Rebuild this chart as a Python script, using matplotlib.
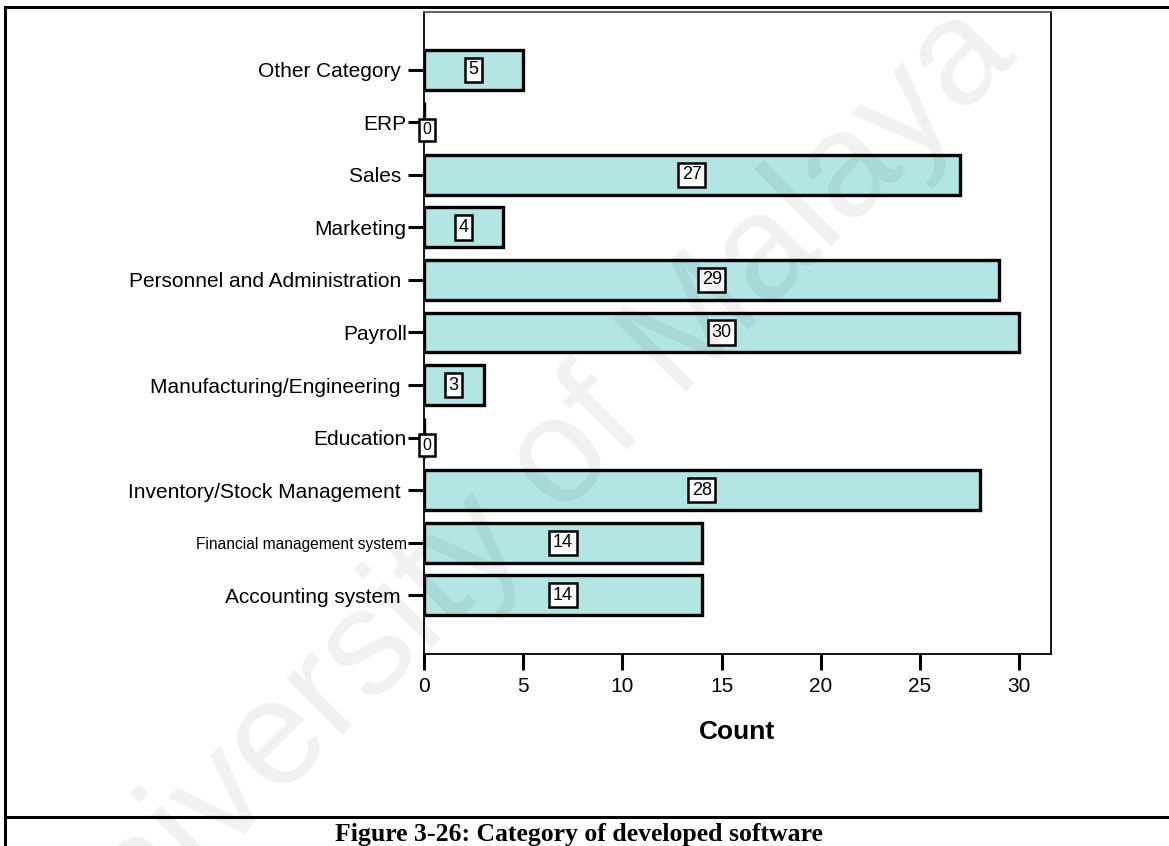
import matplotlib
matplotlib.use("Agg")
import matplotlib.pyplot as plt
from matplotlib.lines import Line2D

# Categories listed bottom-to-top as drawn on the y axis
categories = [
    "Accounting system ",
    "Financial management system",
    "Inventory/Stock Management ",
    "Education",
    "Manufacturing/Engineering ",
    "Payroll",
    "Personnel and Administration ",
    "Marketing",
    "Sales ",
    "ERP",
    "Other Category ",
]
counts = [14, 14, 28, 0, 3, 30, 29, 4, 27, 0, 5]
x_ticks = [0, 5, 10, 15, 20, 25, 30]

W, H, DPI = 1169, 846, 100
fig = plt.figure(figsize=(W / DPI, H / DPI), dpi=DPI)
fig.patch.set_facecolor("white")

def fx(px):
    return px / W

def fy(py):
    return 1 - py / H

ax = fig.add_axes([fx(424), fy(654), fx(1051) - fx(424), fy(12) - fy(654)])

ypos = list(range(len(categories)))
ax.barh(ypos, counts, height=0.76, color="#b3e5e5", edgecolor="black",
        linewidth=2.4, zorder=3)

ax.set_xlim(0, 31.6)
ax.set_ylim(-1.12, len(categories) - 1 + 1.1)
ax.set_xticks(x_ticks)
ax.set_xticklabels([str(t) for t in x_ticks], family="Liberation Sans",
                   fontsize=15)
ax.set_yticks(ypos)
ax.set_yticklabels(categories, family="Liberation Sans", fontsize=15)
for lbl in ax.get_yticklabels():
    if lbl.get_text().startswith("Financial"):
        lbl.set_fontsize(11.2)
ax.tick_params(axis="y", length=11.5, width=2.2, pad=1, direction="out")
ax.tick_params(axis="x", length=11.5, width=2.2, pad=5, direction="out")

for s in ax.spines.values():
    s.set_linewidth(1.3)
    s.set_color("black")
ax.spines["top"].set_color("#555555")

ax.set_xlabel("Count", family="Liberation Sans", fontweight="bold",
              fontsize=19, labelpad=17)

# Value labels in boxed tags
box = dict(boxstyle="square,pad=0.2", facecolor="white", edgecolor="black",
           linewidth=1.8)
for y, v in zip(ypos, counts):
    if v == 0:
        ax.annotate(str(v), xy=(0, y), xytext=(-1.0, -5.5),
                    textcoords="offset points", ha="left", va="center",
                    fontsize=11.5, family="Liberation Sans", bbox=box, zorder=5)
    else:
        ax.text(v / 2, y, str(v), ha="center", va="center", fontsize=13,
                family="Liberation Sans", bbox=box, zorder=5)

# Document frame and caption
lw = 2.2
fig.add_artist(Line2D([fx(5), 1], [fy(7), fy(7)], color="black", lw=lw))
fig.add_artist(Line2D([fx(5), fx(5)], [fy(7), 0], color="black", lw=lw))
fig.add_artist(Line2D([fx(5), 1], [fy(817), fy(817)], color="black", lw=lw))
fig.text(fx(579), fy(834), "Figure 3-26: Category of developed software",
         ha="center", va="center", family="Liberation Serif",
         fontweight="bold", fontsize=18.5)

# Faint diagonal watermark
fig.text(fx(515), fy(508), "University of Malaya", ha="center", va="center",
         rotation=45, rotation_mode="anchor", fontsize=108,
         family="Liberation Sans", color="black", alpha=0.06, zorder=10)

fig.savefig("out.png", dpi=DPI)
